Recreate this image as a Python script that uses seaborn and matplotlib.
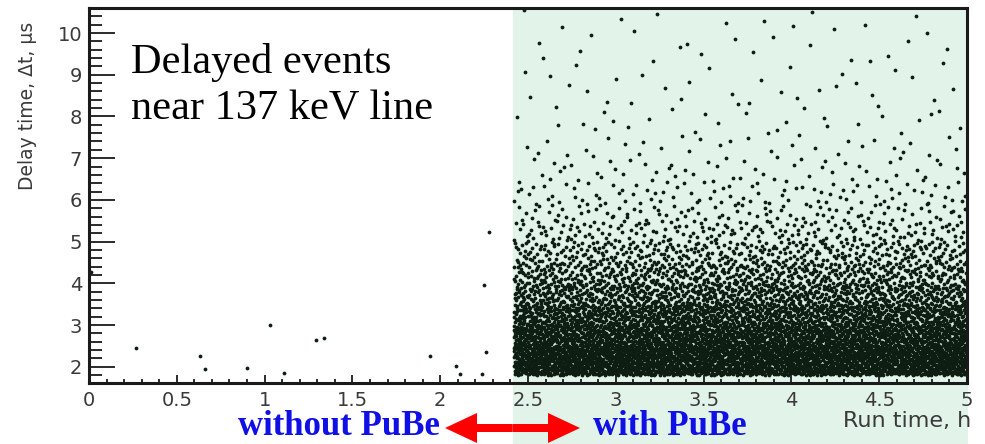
import numpy as np
import pandas as pd
import matplotlib
matplotlib.use("Agg")
import matplotlib.pyplot as plt
from matplotlib.ticker import MultipleLocator, FuncFormatter
from matplotlib.patches import Rectangle, FancyArrow
import seaborn as sns

# ---------------- data ----------------
# isolated events before the PuBe source was installed (run time h, delay us)
pre_time = [0.01, 0.27, 0.63, 0.66, 0.90, 1.03, 1.11, 1.29, 1.34, 1.94,
            2.09, 2.11, 2.24, 2.25, 2.26, 2.28]
pre_delay = [4.28, 2.45, 2.26, 1.94, 1.98, 3.00, 1.85, 2.65, 2.68, 2.26,
             2.02, 1.83, 1.82, 3.96, 2.36, 5.22]

# with PuBe: events are too dense to read one by one; estimated number of
# events per delay-time band (whole 2.415 - 5 h interval)
pube_start, pube_end = 2.415, 5.0
delay_edges = [1.8, 2.0, 2.5, 3.0, 3.5, 4.0, 4.5, 5.0, 5.5, 6.0, 6.5,
               7.0, 7.5, 8.0, 8.5, 9.0, 9.5, 10.0, 10.6]
band_counts = [750, 1750, 1450, 1100, 760, 520, 340, 190, 115, 75,
               45, 30, 22, 18, 15, 13, 12, 13]

x_ticks = [0, 0.5, 1, 1.5, 2, 2.5, 3, 3.5, 4, 4.5, 5]
y_ticks = [2, 3, 4, 5, 6, 7, 8, 9, 10]


# ---------------- spread the band counts evenly over the region ----------
def halton(idx, base):
    idx = np.asarray(idx, dtype=np.int64).copy()
    f = np.ones(idx.shape)
    r = np.zeros(idx.shape)
    while np.any(idx > 0):
        f = f / base
        r = r + f * (idx % base)
        idx = idx // base
    return r


n_total = int(np.sum(band_counts))
cum = np.concatenate([[0.0], np.cumsum(band_counts)]) / n_total
k = np.arange(101, 101 + n_total)
u, v = halton(k, 2), halton(k, 3)
pube = pd.DataFrame({
    "t": pube_start + 0.004 + (pube_end - pube_start - 0.008) * u,
    "d": np.interp(v, cum, delay_edges),
})
pre = pd.DataFrame({"t": pre_time, "d": pre_delay})
events = pd.concat([pre, pube], ignore_index=True)

# ---------------- figure ----------------
W, H = 985, 444
fig = plt.figure(figsize=(W / 100, H / 100), dpi=100)
fig.patch.set_facecolor("white")

green = "#e2f4ea"
fig.add_artist(Rectangle((513 / W, 0), (968 - 513) / W, 1 - 8 / H,
                         transform=fig.transFigure, facecolor=green,
                         edgecolor="none", zorder=-10))

ax = fig.add_axes([89 / W, 1 - 383 / H, 878 / W, (383 - 8) / H])
ax.set_facecolor("none")

sns.scatterplot(data=events, x="t", y="d", ax=ax, s=7.5, color="#0e1d12",
                linewidth=0, marker="o", legend=False)

ax.set_xlim(0, 5)
ax.set_ylim(1.61, 10.6)
ax.set_xlabel("")
ax.set_ylabel("")

ax.xaxis.set_major_locator(MultipleLocator(0.5))
ax.xaxis.set_minor_locator(MultipleLocator(0.1))
ax.yaxis.set_major_locator(MultipleLocator(1))
ax.yaxis.set_minor_locator(MultipleLocator(0.2))
ax.set_xticks(x_ticks)
ax.set_yticks(y_ticks)
fmt = FuncFormatter(lambda val, p: f"{val:g}")
ax.xaxis.set_major_formatter(fmt)
ax.yaxis.set_major_formatter(fmt)

tick_font = "DejaVu Sans"
for lab in ax.get_xticklabels() + ax.get_yticklabels():
    lab.set_fontfamily(tick_font)
ax.tick_params(axis="both", which="both", direction="in", colors="#1a1a1a",
               labelcolor="#3a3a3a", labelsize=14, top=False, right=False)
ax.tick_params(axis="y", which="major", length=19, width=1.3, pad=5)
ax.tick_params(axis="y", which="minor", length=9.5, width=1.3)
ax.tick_params(axis="x", which="major", length=5.5, width=1.3, pad=6)
ax.tick_params(axis="x", which="minor", length=3, width=1.3)

for sp in ax.spines.values():
    sp.set_linewidth(2.2)
    sp.set_color("#1a1a1a")

# axis titles
fig.text(28 / W, 1 - 106 / H, "Delay time, \u0394t, \u00b5s", rotation=90,
         ha="center", va="center", fontsize=13.5, color="#3a3a3a",
         family=tick_font)
fig.text(971 / W, 1 - 427 / H, "Run time, h", ha="right", va="baseline",
         fontsize=16, color="#3a3a3a", family=tick_font)

# annotation inside the plot
serif = "Liberation Serif"
fig.text(131 / W, 1 - 73 / H, "Delayed events", ha="left", va="baseline",
         fontsize=30.5, family=serif, color="black")
fig.text(131 / W, 1 - 120 / H, "near 137 keV line", ha="left",
         va="baseline", fontsize=30.5, family=serif, color="black")

# bottom labels and red double arrow
blue = "#1010e6"
fig.text(440 / W, 1 - 435 / H, "without PuBe", ha="right", va="baseline",
         fontsize=25, fontweight="bold", family=serif, color=blue)
fig.text(593 / W, 1 - 435 / H, "with PuBe", ha="left", va="baseline",
         fontsize=25, fontweight="bold", family=serif, color=blue)

ymid = 1 - 428 / H
cx = 512.5 / W
for tip in (445, 580):
    fig.add_artist(FancyArrow(cx, ymid, tip / W - cx, 0, width=8 / H,
                              head_width=30 / H, head_length=32 / W,
                              length_includes_head=True,
                              transform=fig.transFigure, color="#ff0000",
                              linewidth=0))

fig.savefig("out.png", dpi=100)
